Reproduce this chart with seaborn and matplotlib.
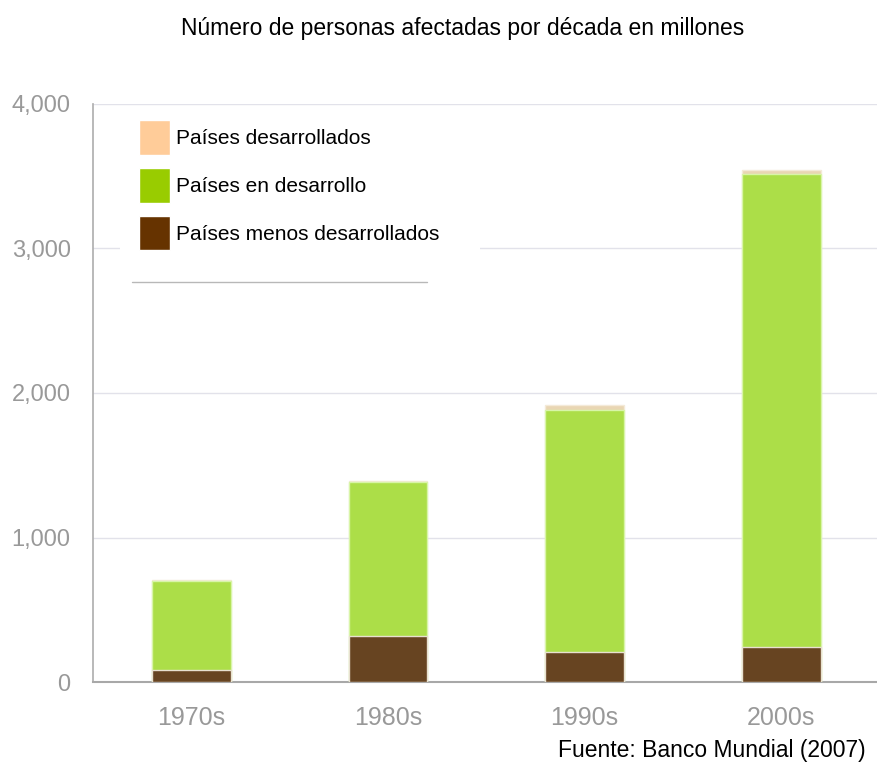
import numpy as np
import pandas as pd
from matplotlib import pyplot as plt
from matplotlib.patches import Patch, Rectangle
from matplotlib.lines import Line2D
from matplotlib.ticker import FuncFormatter
import seaborn as sns

decades = ['1970s', '1980s', '1990s', '2000s']
menos_desarrollados = [85, 320, 210, 240]
en_desarrollo = [615, 1064, 1672, 3276]
desarrollados = [6, 8, 35, 25]

sns.set_theme(style='white')
plt.rcParams['font.family'] = ['Liberation Sans', 'DejaVu Sans']

df = pd.DataFrame({'decada': decades,
                   'menos': menos_desarrollados,
                   'desarrollo': en_desarrollo,
                   'desarrollados': desarrollados})
df['nivel2'] = df['menos'] + df['desarrollo']
df['total'] = df['nivel2'] + df['desarrollados']

fig = plt.figure(figsize=(8.77, 7.63), dpi=100)
ax = fig.add_axes([0.106, 0.106, 0.897, 0.758])

# barras apiladas: de la mas alta a la mas baja, superpuestas
sns.barplot(data=df, x='decada', y='total', color='#e9d6b3', width=0.4,
            edgecolor='#f4ead8', linewidth=1, saturation=1, ax=ax, zorder=2)
sns.barplot(data=df, x='decada', y='nivel2', color='#acde48', width=0.4,
            edgecolor='#d8f5a8', linewidth=1, saturation=1, ax=ax, zorder=3)
sns.barplot(data=df, x='decada', y='menos', color='#674421', width=0.4,
            edgecolor='#e8e0d0', linewidth=1, saturation=1, ax=ax, zorder=4)

ax.set_ylim(0, 4000)
ax.set_xlim(-0.5, 3.5)
ax.set_yticks([0, 1000, 2000, 3000, 4000])
ax.yaxis.set_major_formatter(FuncFormatter(lambda v, p: f'{int(v):,}'))
ax.grid(axis='y', color='#e2e2ea', linewidth=1, zorder=0)
ax.set_axisbelow(True)
ax.tick_params(axis='both', length=0, labelcolor='#999999')
ax.tick_params(axis='y', pad=16, labelsize=17)
ax.tick_params(axis='x', pad=17, labelsize=18)
ax.set_xlabel('')
ax.set_ylabel('')
for s in ['top', 'right']:
    ax.spines[s].set_visible(False)
ax.spines['left'].set_color('#b0b0b0')
ax.spines['bottom'].set_color('#a8a8a8')
ax.spines['bottom'].set_linewidth(1.5)

# caja blanca detras de la leyenda
ax.add_patch(Rectangle((0.034, 0.71), 0.458, 0.285, transform=ax.transAxes,
                       facecolor='white', edgecolor='none', zorder=5))

handles = [Patch(facecolor='#ffcc99', label='Países desarrollados'),
           Patch(facecolor='#99cc00', label='Países en desarrollo'),
           Patch(facecolor='#663300', label='Países menos desarrollados')]
leg = ax.legend(handles=handles, loc='upper left', bbox_to_anchor=(0.058, 0.972),
                frameon=False, fontsize=15, handlelength=1.5, handleheight=2.2,
                handletextpad=0.3, labelspacing=0.62, borderpad=0, borderaxespad=0,
                labelcolor='black')
leg.set_zorder(6)

ax.add_line(Line2D([0.05, 0.425], [0.692, 0.692], transform=ax.transAxes,
                   color='#b8b8b8', linewidth=1, zorder=7))

fig.text(0.528, 0.963, 'Número de personas afectadas por década en millones',
         ha='center', va='center', fontsize=16.5, color='black')
fig.text(0.987, 0.017, 'Fuente: Banco Mundial (2007)', ha='right', va='center',
         fontsize=16.5, color='black')

plt.savefig('out.png', dpi=100)
